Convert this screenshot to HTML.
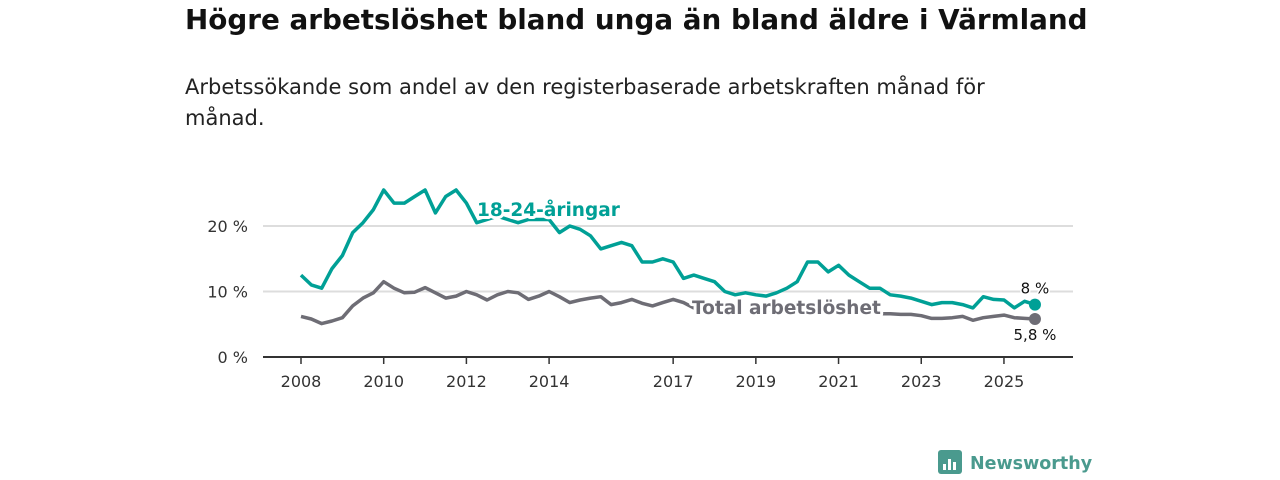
<!DOCTYPE html>
<html><head><meta charset="utf-8"><style>
body{margin:0;width:1280px;height:480px;background:#fff;font-family:"DejaVu Sans","Liberation Sans",sans-serif;overflow:hidden;position:relative}
h1{position:absolute;left:185px;top:3px;margin:0;font-size:27.8px;font-weight:bold;color:#111;white-space:nowrap}
p{position:absolute;left:185px;top:72px;margin:0;font-size:21px;line-height:31px;color:#222;width:845px}
svg{position:absolute;left:0;top:0}
</style></head><body>
<h1>Högre arbetslöshet bland unga än bland äldre i Värmland</h1>
<p>Arbetssökande som andel av den registerbaserade arbetskraften månad för månad.</p>
<svg id="c" width="1280" height="480"></svg>
<script>
const startYear=2008, step=0.25;
const youth=[12.5,11.0,10.5,13.5,15.5,19,20.5,22.5,25.5,23.5,23.5,24.5,25.5,22,24.5,25.5,23.5,20.5,21,21.5,21,20.5,21,21,21,19,20,19.5,18.5,16.5,17,17.5,17,14.5,14.5,15,14.5,12,12.5,12,11.5,10,9.5,9.8,9.5,9.3,9.8,10.5,11.5,14.5,14.5,13,14,12.5,11.5,10.5,10.5,9.5,9.3,9,8.5,8,8.3,8.3,8,7.5,9.2,8.8,8.7,7.5,8.5,8];
const total=[6.2,5.8,5.1,5.5,6,7.8,9.0,9.8,11.5,10.5,9.8,9.9,10.6,9.8,9.0,9.3,10.0,9.5,8.7,9.5,10.0,9.8,8.8,9.3,10,9.2,8.3,8.7,9.0,9.2,8.0,8.3,8.8,8.2,7.8,8.3,8.8,8.3,7.5,7.5,7.4,7.3,7.3,7.3,7.3,7.2,7.2,7.3,7.3,7.4,7.4,7.3,7.2,7.0,6.8,6.7,6.6,6.6,6.5,6.5,6.3,5.9,5.9,6.0,6.2,5.6,6.0,6.2,6.4,6.0,5.9,5.8];
const yTicks=[0,10,20];
const xTicks=[2008,2010,2012,2014,2017,2019,2021,2023,2025];
const X=t=>301+(t-2008)*41.35, Y=v=>357-v*6.55;
const svg=document.getElementById('c'), NS='http://www.w3.org/2000/svg';
function mk(tag,a,txt){const e=document.createElementNS(NS,tag);for(const k in a)e.setAttribute(k,a[k]);if(txt!==undefined)e.textContent=txt;svg.appendChild(e);return e;}
yTicks.forEach(v=>{
 if(v>0){const g=mk('line',{x1:263,x2:1073,y1:Y(v),y2:Y(v),stroke:'#ddd','stroke-width':2});
 
 }
 const t=mk('text',{x:248,y:Y(v)+6,'text-anchor':'end','font-size':16,fill:'#333'},v+' %');
 
 
});
const ax=mk('line',{x1:263,x2:1073,y1:357,y2:357,stroke:'#333','stroke-width':2});


xTicks.forEach(y=>{
 mk('line',{x1:X(y),x2:X(y),y1:357,y2:364,stroke:'#333','stroke-width':1.5});
 const t=mk('text',{x:X(y),y:387,'text-anchor':'middle','font-size':16,fill:'#333'},y);
 
 
});
function line(arr,col,name){
 const d=arr.map((v,i)=>(i?'L':'M')+X(startYear+i*step).toFixed(1)+','+Y(v).toFixed(1)).join('');
 const p=mk('path',{d:d,fill:'none',stroke:col,'stroke-width':3.5,'stroke-linejoin':'round'});
 
 
 const n=arr.length-1;
 const c=mk('circle',{cx:X(startYear+n*step),cy:Y(arr[n]),r:6,fill:col});
 
 
}
line(total,'#6e6d75','total');
line(youth,'#00a096','youth');
function lab(x,y,txt,col,name,anchor,size,bold){
 const t=mk('text',{x:x,y:y,'text-anchor':anchor,'font-size':size,'font-weight':bold?'bold':'normal',fill:col,stroke:'#fff','stroke-width':bold?6:3,'stroke-linejoin':'round','paint-order':'stroke'},txt);
 
 
 return t;
}
mk('rect',{x:482,y:200,width:130,height:14,fill:'#fff'});
mk('rect',{x:696,y:298,width:186,height:13,fill:'#fff'});
lab(477,216,'18-24-åringar','#00a096','youth-series-label','start',18.5,true);
lab(692,314,'Total arbetslöshet','#6e6d75','total-series-label','start',18.5,true);
const n=youth.length-1;
lab(X(startYear+n*step),Y(youth[n])-11,Math.round(youth[n])+' %','#111','youth-end-value','middle',15,false);
lab(X(startYear+n*step),Y(total[n])+21,String(total[n]).replace('.',',')+' %','#111','total-end-value','middle',15,false);
const lg=mk('rect',{x:938,y:450,width:24,height:24,rx:3,fill:'#4a9a8e'});


[[943,464,3,6],[948,459,3,11],[953,462,3,8]].forEach(r=>mk('rect',{x:r[0],y:r[1],width:r[2],height:r[3],fill:'#fff'}));
const lt=mk('text',{x:970,y:469,'font-size':17.5,'font-weight':'bold',fill:'#4a9a8e'},'Newsworthy');


</script>
</body></html>
